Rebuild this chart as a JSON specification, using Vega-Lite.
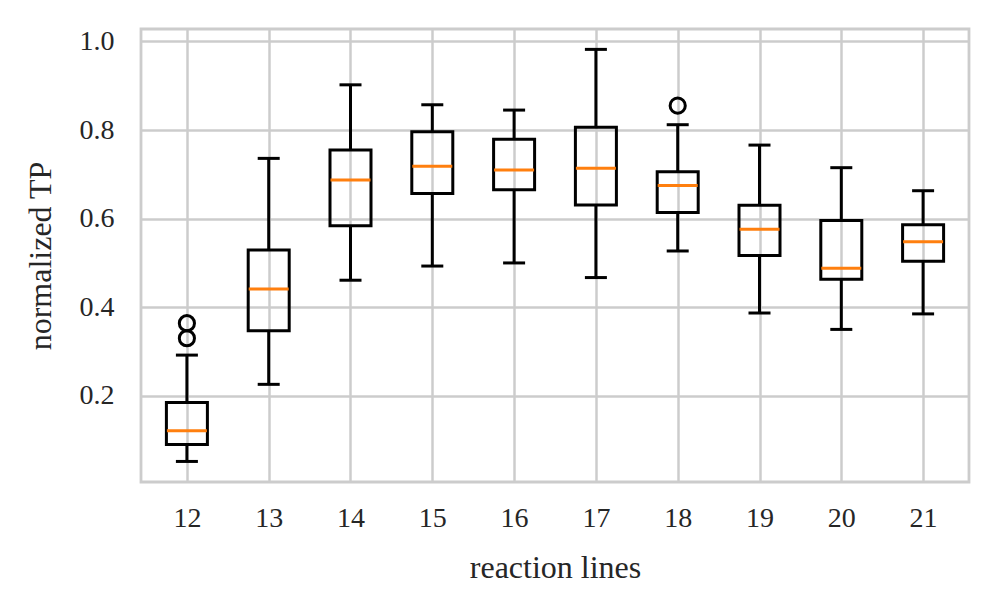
{
  "$schema": "https://vega.github.io/schema/vega-lite/v6.json",
  "width": 828,
  "height": 453,
  "autosize": {"type": "none"},
  "padding": {"left": 141, "top": 29, "right": 29, "bottom": 131},
  "background": "white",
  "config": {
    "view": {"stroke": "#cccccc", "strokeWidth": 2.8},
    "font": "Liberation Serif",
    "axis": {
      "labelFont": "Liberation Serif",
      "titleFont": "Liberation Serif",
      "labelFontSize": 28,
      "titleFontSize": 32,
      "labelColor": "#262626",
      "titleColor": "#262626",
      "titleFontWeight": "normal",
      "gridColor": "#cccccc",
      "gridWidth": 2.5,
      "gridOpacity": 1,
      "domain": false,
      "ticks": false
    }
  },
  "datasets": {
    "boxes": [
      {"line": 12, "lo": 0.052, "q1": 0.090, "med": 0.121, "q3": 0.185, "hi": 0.292},
      {"line": 13, "lo": 0.226, "q1": 0.347, "med": 0.441, "q3": 0.529, "hi": 0.736},
      {"line": 14, "lo": 0.461, "q1": 0.584, "med": 0.687, "q3": 0.755, "hi": 0.902},
      {"line": 15, "lo": 0.493, "q1": 0.657, "med": 0.718, "q3": 0.796, "hi": 0.857},
      {"line": 16, "lo": 0.500, "q1": 0.665, "med": 0.710, "q3": 0.779, "hi": 0.845},
      {"line": 17, "lo": 0.467, "q1": 0.631, "med": 0.714, "q3": 0.806, "hi": 0.982},
      {"line": 18, "lo": 0.527, "q1": 0.614, "med": 0.675, "q3": 0.706, "hi": 0.812},
      {"line": 19, "lo": 0.387, "q1": 0.517, "med": 0.576, "q3": 0.630, "hi": 0.766},
      {"line": 20, "lo": 0.350, "q1": 0.463, "med": 0.488, "q3": 0.596, "hi": 0.715},
      {"line": 21, "lo": 0.385, "q1": 0.504, "med": 0.548, "q3": 0.586, "hi": 0.663}
    ],
    "outliers": [
      {"line": 12, "value": 0.364},
      {"line": 12, "value": 0.330},
      {"line": 18, "value": 0.855}
    ]
  },
  "data": {"name": "boxes"},
  "encoding": {
    "x": {
      "field": "line",
      "type": "quantitative",
      "scale": {"domain": [11.5, 21.5], "nice": false, "zero": false},
      "axis": {
        "title": "reaction lines",
        "values": [12, 13, 14, 15, 16, 17, 18, 19, 20, 21],
        "format": "d",
        "labelFlush": false,
        "labelPadding": 22,
        "titlePadding": 20
      }
    }
  },
  "layer": [
    {
      "mark": {"type": "rule", "color": "black", "strokeWidth": 3},
      "encoding": {
        "y": {
          "field": "lo",
          "type": "quantitative",
          "scale": {"domain": [0.0056, 1.028], "nice": false, "zero": false},
          "axis": {
            "title": "normalized TP",
            "values": [0.2, 0.4, 0.6, 0.8, 1.0],
            "format": ".1f",
            "labelPadding": 27,
            "titlePadding": 22
          }
        },
        "y2": {"field": "q1"}
      }
    },
    {
      "mark": {"type": "rule", "color": "black", "strokeWidth": 3},
      "encoding": {
        "y": {"field": "q3", "type": "quantitative"},
        "y2": {"field": "hi"}
      }
    },
    {
      "mark": {"type": "tick", "orient": "horizontal", "color": "black", "size": 22, "thickness": 3, "opacity": 1},
      "encoding": {"y": {"field": "lo", "type": "quantitative"}}
    },
    {
      "mark": {"type": "tick", "orient": "horizontal", "color": "black", "size": 22, "thickness": 3, "opacity": 1},
      "encoding": {"y": {"field": "hi", "type": "quantitative"}}
    },
    {
      "mark": {"type": "bar", "size": 41, "fill": "transparent", "stroke": "black", "strokeWidth": 3},
      "encoding": {
        "y": {"field": "q1", "type": "quantitative"},
        "y2": {"field": "q3"}
      }
    },
    {
      "mark": {"type": "tick", "orient": "horizontal", "color": "#ff7f0e", "size": 40, "thickness": 3, "opacity": 1},
      "encoding": {"y": {"field": "med", "type": "quantitative"}}
    },
    {
      "data": {"name": "outliers"},
      "mark": {"type": "point", "shape": "circle", "filled": false, "color": "black", "size": 230, "strokeWidth": 3, "opacity": 1},
      "encoding": {
        "x": {"field": "line", "type": "quantitative"},
        "y": {"field": "value", "type": "quantitative"}
      }
    }
  ]
}
